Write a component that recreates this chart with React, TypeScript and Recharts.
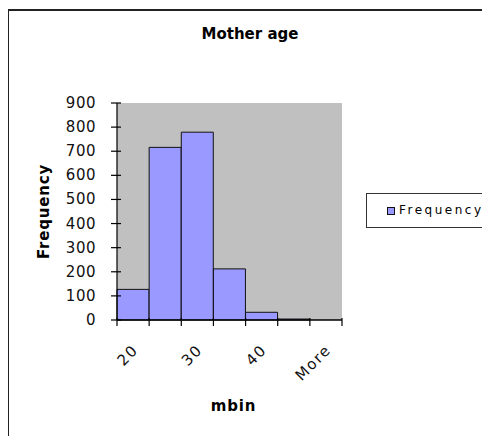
import React from 'react';
import { BarChart, Bar, XAxis, YAxis, CartesianGrid, Legend } from 'recharts';

const bins = ['20', '25', '30', '35', '40', '45', 'More'];
const frequency = [127, 716, 779, 212, 32, 4, 0];
const yTicks = [0, 100, 200, 300, 400, 500, 600, 700, 800, 900];
const labeledBins = ['20', '30', '40', 'More'];

const data = bins.map((b, i) => ({ bin: b, Frequency: frequency[i] }));

const FONT = '"DejaVu Sans", Verdana, sans-serif';

function XTick(props: any) {
  const { x, y, payload, index } = props;
  const half = payload && payload.offset ? payload.offset : 16;
  const left = x - half;
  const right = x + half;
  const show = labeledBins.includes(String(payload.value));
  const ax = x + 6;
  const ay = y + 31;
  return (
    <g>
      <line x1={left} x2={left} y1={y - 2} y2={y + 6} stroke="#000" strokeWidth={1.2} />
      {index === bins.length - 1 && (
        <line x1={right} x2={right} y1={y - 2} y2={y + 6} stroke="#000" strokeWidth={1.2} />
      )}
      {show && (
        <text
          x={ax}
          y={ay}
          textAnchor="end"
          transform={`rotate(-45, ${ax}, ${ay})`}
          fontFamily={FONT}
          fontSize={15}
          letterSpacing={1.5}
          fill="#111"
        >
          {payload.value}
        </text>
      )}
    </g>
  );
}

function YTick(props: any) {
  const { x, y, payload } = props;
  return (
    <g>
      <line x1={x - 6} x2={x + 4} y1={y} y2={y} stroke="#000" strokeWidth={1.2} />
      <text
        x={x - 21}
        y={y}
        textAnchor="end"
        dominantBaseline="central"
        fontFamily={FONT}
        fontSize={15}
        letterSpacing={0.5}
        fill="#111"
      >
        {payload.value}
      </text>
    </g>
  );
}

function YTitle(props: any) {
  const vb = props.viewBox || {};
  const cx = vb.x - 13;
  const cy = vb.y + vb.height / 2;
  return (
    <text
      x={cx}
      y={cy}
      transform={`rotate(-90, ${cx}, ${cy})`}
      textAnchor="middle"
      dominantBaseline="central"
      fontFamily={FONT}
      fontWeight="bold"
      fontSize={15}
      letterSpacing={0.8}
      fill="#000"
    >
      Frequency
    </text>
  );
}

function XTitle(props: any) {
  const vb = props.viewBox || {};
  const cx = vb.x + vb.width / 2 + 4;
  const cy = vb.y + 86;
  return (
    <text
      x={cx}
      y={cy}
      textAnchor="middle"
      dominantBaseline="central"
      fontFamily={FONT}
      fontWeight="bold"
      fontSize={15}
      letterSpacing={0.8}
      fill="#000"
    >
      mbin
    </text>
  );
}

function LegendBox() {
  return (
    <div
      style={{
        width: 150,
        height: 35,
        border: '1.5px solid #333',
        background: '#fff',
        boxSizing: 'border-box',
        position: 'relative',
        fontFamily: FONT,
      }}
    >
      <div
        style={{
          position: 'absolute',
          left: 20,
          top: 13,
          width: 6,
          height: 6,
          background: '#9999ff',
          border: '1px solid #111',
        }}
      />
      <div
        style={{
          position: 'absolute',
          left: 32,
          top: 8,
          fontSize: 12,
          letterSpacing: 2.5,
          color: '#000',
          lineHeight: '16px',
          whiteSpace: 'nowrap',
        }}
      >
        Frequency
      </div>
    </div>
  );
}

export default function App() {
  return (
    <div style={{ position: 'relative', width: 500, height: 428, overflow: 'hidden' }}>
      <style>{'html, body { overflow: hidden; }'}</style>
      <div
        style={{
          position: 'absolute',
          left: -1,
          top: 1,
          width: 600,
          height: 600,
          border: '2px solid #222',
        }}
      />
      <div
        style={{
          position: 'absolute',
          left: 0,
          width: 484,
          top: 17,
          textAlign: 'center',
          fontFamily: FONT,
          fontWeight: 'bold',
          fontSize: 15,
          color: '#000',
          lineHeight: '18px',
        }}
      >
        Mother age
      </div>
      <div style={{ position: 'absolute', left: 0, top: 0 }}>
        <BarChart
          width={500}
          height={436}
          data={data}
          margin={{ top: 95, right: 166, bottom: 34, left: 49 }}
          barCategoryGap={0}
          barGap={0}
        >
          <CartesianGrid fill="#c0c0c0" horizontal={false} vertical={false} />
          <XAxis
            xAxisId="top"
            orientation="top"
            dataKey="bin"
            height={0}
            tick={false}
            tickLine={false}
            axisLine={{ stroke: '#9a9a9a', strokeWidth: 1 }}
          />
          <YAxis
            yAxisId="right"
            orientation="right"
            width={0}
            tick={false}
            tickLine={false}
            domain={[0, 900]}
            axisLine={{ stroke: '#9a9a9a', strokeWidth: 1 }}
          />
          <XAxis
            dataKey="bin"
            height={90}
            interval={0}
            tickSize={0}
            tickMargin={0}
            tickLine={false}
            axisLine={{ stroke: '#000', strokeWidth: 1.5 }}
            tick={<XTick />}
            label={{ content: <XTitle /> }}
          />
          <YAxis
            width={60}
            domain={[0, 900]}
            ticks={yTicks}
            interval={0}
            tickSize={0}
            tickMargin={0}
            tickLine={false}
            axisLine={{ stroke: '#000', strokeWidth: 1.2 }}
            tick={<YTick />}
            label={{ content: <YTitle /> }}
          />
          <Legend
            layout="vertical"
            align="center"
            verticalAlign="middle"
            content={<LegendBox />}
            wrapperStyle={{ position: 'absolute', left: 358, top: 185, width: 150 }}
          />
          <Bar
            dataKey="Frequency"
            fill="#9999ff"
            stroke="#111"
            strokeWidth={1}
            isAnimationActive={false}
          />
        </BarChart>
      </div>
    </div>
  );
}
